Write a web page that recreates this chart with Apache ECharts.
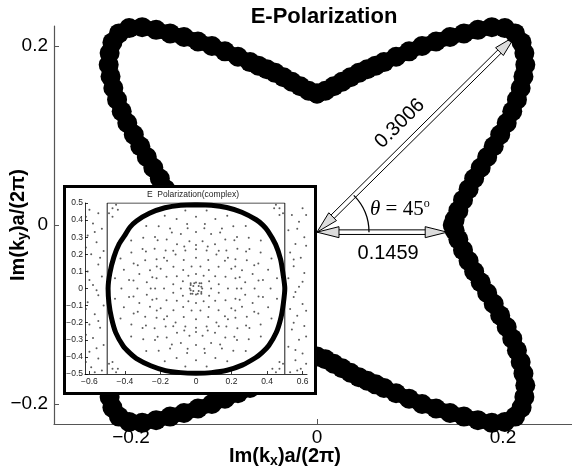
<!DOCTYPE html>
<html><head><meta charset="utf-8">
<script src="https://cdn.jsdelivr.net/npm/echarts@6/dist/echarts.min.js"></script>
<style>html,body{margin:0;padding:0;background:#fff}#c{width:572px;height:473px}</style>
</head><body><div id="c"></div>
<script>
// ---- data ----
const mainTitle = 'E-Polarization';
const insetTitle = 'E  Polarization(complex)';
const mainXTicks = [-0.2, 0, 0.2];
const mainYTicks = [-0.2, 0, 0.2];
const insetXTicks = [-0.6, -0.4, -0.2, 0, 0.2, 0.4, 0.6];

// Im(kx)a/2pi , Im(ky)a/2pi contour (closed loop)
const contour = [
[0.000,0.147],[0.009,0.150],[0.018,0.155],[0.027,0.160],[0.036,0.165],[0.045,0.170],[0.054,0.174],[0.063,0.178],[0.072,0.182],[0.085,0.188],[0.099,0.194],[0.113,0.200],[0.128,0.205],[0.143,0.210],[0.158,0.214],[0.173,0.218],[0.188,0.221],[0.202,0.220],[0.213,0.214],[0.220,0.204],[0.223,0.192],[0.224,0.179],[0.222,0.166],[0.219,0.153],[0.215,0.140],[0.210,0.127],[0.204,0.114],[0.197,0.101],[0.190,0.088],[0.183,0.076],[0.176,0.064],[0.169,0.052],[0.163,0.040],[0.157,0.028],[0.152,0.016],[0.148,0.006],[0.146,0.000],
[0.148,-0.006],[0.152,-0.016],[0.157,-0.028],[0.163,-0.040],[0.169,-0.052],[0.176,-0.064],[0.183,-0.076],[0.190,-0.088],[0.197,-0.101],[0.204,-0.114],[0.210,-0.127],[0.215,-0.140],[0.219,-0.153],[0.222,-0.166],[0.224,-0.179],[0.223,-0.192],[0.220,-0.204],[0.213,-0.214],[0.202,-0.220],[0.188,-0.221],[0.173,-0.218],[0.158,-0.214],[0.143,-0.210],[0.128,-0.205],[0.113,-0.200],[0.099,-0.194],[0.085,-0.188],[0.072,-0.182],[0.063,-0.178],[0.054,-0.174],[0.045,-0.170],[0.036,-0.165],[0.027,-0.160],[0.018,-0.155],[0.009,-0.150],[0.000,-0.147],
[-0.009,-0.150],[-0.018,-0.155],[-0.027,-0.160],[-0.036,-0.165],[-0.045,-0.170],[-0.054,-0.174],[-0.063,-0.178],[-0.072,-0.182],[-0.085,-0.188],[-0.099,-0.194],[-0.113,-0.200],[-0.128,-0.205],[-0.143,-0.210],[-0.158,-0.214],[-0.173,-0.218],[-0.188,-0.221],[-0.202,-0.220],[-0.213,-0.214],[-0.220,-0.204],[-0.223,-0.192],[-0.224,-0.179],[-0.222,-0.166],[-0.219,-0.153],[-0.215,-0.140],[-0.210,-0.127],[-0.204,-0.114],[-0.197,-0.101],[-0.190,-0.088],[-0.183,-0.076],[-0.176,-0.064],[-0.169,-0.052],[-0.163,-0.040],[-0.157,-0.028],[-0.152,-0.016],[-0.148,-0.006],[-0.146,0.000],
[-0.148,0.006],[-0.152,0.016],[-0.157,0.028],[-0.163,0.040],[-0.169,0.052],[-0.176,0.064],[-0.183,0.076],[-0.190,0.088],[-0.197,0.101],[-0.204,0.114],[-0.210,0.127],[-0.215,0.140],[-0.219,0.153],[-0.222,0.166],[-0.224,0.179],[-0.223,0.192],[-0.220,0.204],[-0.213,0.214],[-0.202,0.220],[-0.188,0.221],[-0.173,0.218],[-0.158,0.214],[-0.143,0.210],[-0.128,0.205],[-0.113,0.200],[-0.099,0.194],[-0.085,0.188],[-0.072,0.182],[-0.063,0.178],[-0.054,0.174],[-0.045,0.170],[-0.036,0.165],[-0.027,0.160],[-0.018,0.155],[-0.009,0.150],[0.000,0.147]
];

// inset: complex-plane contour (closed, starting at the top)
const insetRing = [
[0.000,0.490],[-0.086,0.487],[-0.175,0.472],[-0.262,0.440],[-0.335,0.395],[-0.372,0.358],[-0.400,0.312],[-0.432,0.262],[-0.462,0.185],[-0.485,0.090],[-0.495,0.000],
[-0.490,-0.086],[-0.476,-0.172],[-0.452,-0.258],[-0.410,-0.336],[-0.372,-0.378],[-0.335,-0.410],[-0.255,-0.452],[-0.172,-0.480],[-0.086,-0.492],[0.000,-0.495],
[0.086,-0.492],[0.175,-0.478],[0.260,-0.448],[0.335,-0.405],[0.372,-0.375],[0.410,-0.333],[0.452,-0.258],[0.478,-0.172],[0.492,-0.086],[0.500,0.000],
[0.490,0.086],[0.476,0.172],[0.448,0.258],[0.405,0.336],[0.375,0.372],[0.339,0.402],[0.258,0.446],[0.173,0.474],[0.086,0.487],[0.000,0.490]
];
const insetBox = [[-0.5,-0.5],[-0.5,0.5],[0.5,0.5],[0.5,-0.5]];
const insetDots = [
[0.42,0],[0.406,0.109],[0.364,0.21],[0.297,0.297],[0.21,0.364],[0.109,0.406],[0,0.42],[-0.109,0.406],[-0.21,0.364],[-0.297,0.297],[-0.364,0.21],[-0.406,0.109],[-0.42,0],[-0.406,-0.109],[-0.364,-0.21],[-0.297,-0.297],[-0.21,-0.364],[-0.109,-0.406],[0,-0.42],[0.109,-0.406],[0.21,-0.364],[0.297,-0.297],[0.364,-0.21],[0.406,-0.109],
[0.377,0.05],[0.351,0.146],[0.301,0.231],[0.231,0.301],[0.146,0.351],[0.05,0.377],[-0.05,0.377],[-0.146,0.351],[-0.231,0.301],[-0.301,0.231],[-0.351,0.146],[-0.377,0.05],[-0.377,-0.05],[-0.351,-0.146],[-0.301,-0.231],[-0.231,-0.301],[-0.146,-0.351],[-0.05,-0.377],[0.05,-0.377],[0.146,-0.351],[0.231,-0.301],[0.301,-0.231],[0.351,-0.146],[0.377,-0.05],
[0.352,0.047],[0.328,0.136],[0.282,0.216],[0.216,0.282],[0.136,0.328],[0.047,0.352],[-0.047,0.352],[-0.136,0.328],[-0.216,0.282],[-0.282,0.216],[-0.328,0.136],[-0.352,0.047],[-0.352,-0.047],[-0.328,-0.136],[-0.282,-0.216],[-0.216,-0.282],[-0.136,-0.328],[-0.047,-0.352],[0.047,-0.352],[0.136,-0.328],[0.216,-0.282],[0.282,-0.216],[0.328,-0.136],[0.352,-0.047],
[0.33,0],[0.319,0.085],[0.286,0.165],[0.233,0.233],[0.165,0.286],[0.085,0.319],[0,0.33],[-0.085,0.319],[-0.165,0.286],[-0.233,0.233],[-0.286,0.165],[-0.319,0.085],[-0.33,0],[-0.319,-0.085],[-0.286,-0.165],[-0.233,-0.233],[-0.165,-0.286],[-0.085,-0.319],[0,-0.33],[0.085,-0.319],[0.165,-0.286],[0.233,-0.233],[0.286,-0.165],[0.319,-0.085],
[0.277,0.037],[0.259,0.107],[0.222,0.171],[0.171,0.222],[0.107,0.259],[0.037,0.277],[-0.037,0.277],[-0.107,0.259],[-0.171,0.222],[-0.222,0.171],[-0.259,0.107],[-0.277,0.037],[-0.277,-0.037],[-0.259,-0.107],[-0.222,-0.171],[-0.171,-0.222],[-0.107,-0.259],[-0.037,-0.277],[0.037,-0.277],[0.107,-0.259],[0.171,-0.222],[0.222,-0.171],[0.259,-0.107],[0.277,-0.037],
[0.255,0],[0.246,0.066],[0.221,0.128],[0.18,0.18],[0.128,0.221],[0.066,0.246],[0,0.255],[-0.066,0.246],[-0.128,0.221],[-0.18,0.18],[-0.221,0.128],[-0.246,0.066],[-0.255,0],[-0.246,-0.066],[-0.221,-0.128],[-0.18,-0.18],[-0.128,-0.221],[-0.066,-0.246],[0,-0.255],[0.066,-0.246],[0.128,-0.221],[0.18,-0.18],[0.221,-0.128],[0.246,-0.066],
[0.23,0],[0.222,0.06],[0.199,0.115],[0.163,0.163],[0.115,0.199],[0.06,0.222],[0,0.23],[-0.06,0.222],[-0.115,0.199],[-0.163,0.163],[-0.199,0.115],[-0.222,0.06],[-0.23,0],[-0.222,-0.06],[-0.199,-0.115],[-0.163,-0.163],[-0.115,-0.199],[-0.06,-0.222],[0,-0.23],[0.06,-0.222],[0.115,-0.199],[0.163,-0.163],[0.199,-0.115],[0.222,-0.06],
[0.456,0.06],[0.425,0.176],[0.365,0.28],[0.28,0.365],[0.176,0.425],[0.06,0.456],[-0.06,0.456],[-0.176,0.425],[-0.28,0.365],[-0.365,0.28],[-0.425,0.176],[-0.456,0.06],[-0.456,-0.06],[-0.425,-0.176],[-0.365,-0.28],[-0.28,-0.365],[-0.176,-0.425],[-0.06,-0.456],[0.06,-0.456],[0.176,-0.425],[0.28,-0.365],[0.365,-0.28],[0.425,-0.176],[0.456,-0.06],
[0.18,0],[0.166,0.069],[0.127,0.127],[0.069,0.166],[0,0.18],[-0.069,0.166],[-0.127,0.127],[-0.166,0.069],[-0.18,0],[-0.166,-0.069],[-0.127,-0.127],[-0.069,-0.166],[0,-0.18],[0.069,-0.166],[0.127,-0.127],[0.166,-0.069],
[0.128,0.025],[0.108,0.072],[0.072,0.108],[0.025,0.128],[-0.025,0.128],[-0.072,0.108],[-0.108,0.072],[-0.128,0.025],[-0.128,-0.025],[-0.108,-0.072],[-0.072,-0.108],[-0.025,-0.128],[0.025,-0.128],[0.072,-0.108],[0.108,-0.072],[0.128,-0.025],
[0.085,0],[0.074,0.043],[0.043,0.074],[0,0.085],[-0.043,0.074],[-0.074,0.043],[-0.085,0],[-0.074,-0.043],[-0.043,-0.074],[0,-0.085],[0.043,-0.074],[0.074,-0.043],
[0.03,0.03],[-0.03,0.03],[0.03,-0.03],[-0.03,-0.03],[0,0.035],[0,-0.035],[0.035,0],[-0.035,0],[0.015,0.015],[-0.015,0.015],[0.015,-0.015],[-0.015,-0.015],[0.03,0.01],[-0.03,-0.01],[0.01,-0.03],[-0.01,0.03],[0.02,0.03],[-0.02,-0.03],[0.03,-0.02],[-0.03,0.02],
[0.47,0.47],[0.44,0.47],[0.47,0.43],[-0.47,0.47],[-0.44,0.46],[-0.47,0.42],[0.47,-0.47],[0.43,-0.47],[0.47,-0.43],[-0.47,-0.47],[-0.44,-0.47],[-0.47,-0.43],[0.49,0.44],[0.45,0.49],[-0.49,0.44],[-0.45,0.49],[0.49,-0.44],[0.45,-0.49],[-0.49,-0.44],[-0.45,-0.49],
[-0.6,0.46],[-0.55,0.44],[-0.58,0.38],[-0.53,0.35],[-0.61,0.31],[-0.56,0.27],[-0.52,0.22],[-0.59,0.2],[-0.55,0.14],[-0.61,0.1],[-0.53,0.07],[-0.58,0.02],[-0.55,-0.04],[-0.61,-0.08],[-0.52,-0.1],[-0.57,-0.15],[-0.6,-0.21],[-0.54,-0.23],[-0.58,-0.29],[-0.52,-0.33],[-0.6,-0.37],[-0.55,-0.41],[-0.59,-0.46],[-0.53,-0.48],
[-0.62,0.42],[-0.57,0.33],[-0.62,0.24],[-0.54,0.18],[-0.6,0.05],[-0.56,-0.01],[-0.62,-0.12],[-0.55,-0.19],[-0.62,-0.27],[-0.56,-0.35],[-0.62,-0.43],[-0.57,-0.49],
[0.6,0.47],[0.54,0.43],[0.58,0.39],[0.52,0.34],[0.61,0.3],[0.56,0.26],[0.53,0.21],[0.59,0.18],[0.55,0.13],[0.61,0.09],[0.52,0.06],[0.58,0.01],[0.55,-0.05],[0.6,-0.09],[0.53,-0.12],[0.57,-0.16],[0.61,-0.22],[0.54,-0.24],[0.58,-0.3],[0.52,-0.34],[0.6,-0.38],[0.56,-0.42],[0.59,-0.47],[0.53,-0.49],
[0.62,0.43],[0.57,0.35],[0.62,0.25],[0.55,0.17],[0.6,0.04],[0.56,-0.02],[0.62,-0.13],[0.55,-0.2],[0.62,-0.28],[0.56,-0.36],[0.62,-0.44],[0.57,-0.48]
];

// annotation arrows: [x0, y0, x1, y1]
const arrowData = [[0, -0.008, 0.213, 0.211], [0, -0.008, 0.14, -0.008]];
const arrowLabels = ['0.3006', '0.1459'];
const angleOrigin = [[0, -0.008]];
const angleText = '{t|θ} = 45{s|o}';

// ---- chart ----
const fmt = v => v === 0 ? '0' : (v < 0 ? '−' : '') + Math.abs(v).toFixed(1);
const FONT = 'Liberation Sans';

function renderArrow(params, api) {
  const p0 = api.coord([api.value(0), api.value(1)]);
  const p1 = api.coord([api.value(2), api.value(3)]);
  const dx = p1[0] - p0[0], dy = p1[1] - p0[1], len = Math.hypot(dx, dy);
  const ux = dx / len, uy = dy / len, nx = -uy, ny = ux;
  const L = 22, h = 5.5, w = 2.3;
  const pt = (b, a, c) => [b[0] + ux * a + nx * c, b[1] + uy * a + ny * c];
  const idx = params.dataIndex;
  const mx = (p0[0] + p1[0]) / 2, my = (p0[1] + p1[1]) / 2;
  const off = idx === 0 ? -19 : 21;
  const along = idx === 0 ? -4 : 6;
  const rot = idx === 0 ? Math.atan2(-dy, dx) : 0;
  return {
    type: 'group',
    children: [
      { type: 'polygon', shape: { points: [pt(p0, L - 2, w), pt(p1, -L + 2, w), pt(p1, -L + 2, -w), pt(p0, L - 2, -w)] },
        style: { fill: '#ffffff', stroke: '#000', lineWidth: 1 } },
      { type: 'polygon', shape: { points: [p0, pt(p0, L, h), pt(p0, L, -h)] },
        style: { fill: '#dcdcdc', stroke: '#000', lineWidth: 1 } },
      { type: 'polygon', shape: { points: [p1, pt(p1, -L, h), pt(p1, -L, -h)] },
        style: { fill: '#dcdcdc', stroke: '#000', lineWidth: 1 } },
      { type: 'text', x: mx + nx * off + ux * along, y: my + ny * off + uy * along, rotation: rot,
        style: { text: arrowLabels[idx], fontSize: 20, fontFamily: FONT, fill: '#000', align: 'center', verticalAlign: 'middle' } }
    ]
  };
}

function renderAngle(params, api) {
  const o = api.coord([api.value(0), api.value(1)]);
  return {
    type: 'group',
    children: [
      { type: 'arc', shape: { cx: o[0], cy: o[1], r: 52, startAngle: -Math.PI / 4, endAngle: 0, clockwise: true },
        style: { stroke: '#000', fill: null, lineWidth: 1.3 } },
      { type: 'text', x: o[0] + 53, y: o[1] - 23,
        style: { text: angleText, fontSize: 21, fontFamily: 'Liberation Serif', fill: '#000', align: 'left', verticalAlign: 'middle',
          rich: { t: { fontSize: 21, fontFamily: 'Liberation Serif', fontStyle: 'italic' },
                  s: { fontSize: 12, fontFamily: 'Liberation Serif', padding: [0, 0, 11, 0] } } } }
    ]
  };
}

const chart = echarts.init(document.getElementById('c'), null, { renderer: 'canvas' });
const axisCol = '#555';
chart.setOption({
  animation: false,
  backgroundColor: '#fff',
  grid: [
    { left: 54, top: 26, width: 518, height: 398 },
    { left: 85, top: 203, width: 222, height: 171 }
  ],
  xAxis: [
    { type: 'value', gridIndex: 0, min: -0.2828, max: 0.2742,
      axisLine: { show: true, onZero: false, lineStyle: { color: axisCol, width: 1.2 } },
      axisTick: { show: true, inside: true, length: 5, customValues: mainXTicks, lineStyle: { color: axisCol } },
      axisLabel: { customValues: mainXTicks, formatter: fmt, fontSize: 19, fontFamily: FONT, color: '#000', margin: 4 },
      splitLine: { show: false } },
    { type: 'value', gridIndex: 1, min: -0.625, max: 0.625, z: 10,
      axisLine: { show: true, onZero: false, lineStyle: { color: '#000', width: 0.8 } },
      axisTick: { show: true, inside: true, length: 3, customValues: insetXTicks, lineStyle: { color: '#000', width: 0.8 } },
      axisLabel: { customValues: insetXTicks, formatter: fmt, fontSize: 8.5, fontFamily: FONT, color: '#222', margin: 3 },
      splitLine: { show: false } }
  ],
  yAxis: [
    { type: 'value', gridIndex: 0, min: -0.2223, max: 0.2223,
      axisLine: { show: true, onZero: false, lineStyle: { color: axisCol, width: 1.2 } },
      axisTick: { show: true, inside: true, length: 5, customValues: mainYTicks, lineStyle: { color: axisCol } },
      axisLabel: { customValues: mainYTicks, formatter: fmt, fontSize: 19, fontFamily: FONT, color: '#000', margin: 6 },
      splitLine: { show: false } },
    { type: 'value', gridIndex: 1, min: -0.5, max: 0.5, interval: 0.1, z: 10,
      axisLine: { show: true, onZero: false, lineStyle: { color: '#000', width: 0.8 } },
      axisTick: { show: true, inside: true, length: 3, lineStyle: { color: '#000', width: 0.8 } },
      axisLabel: { formatter: v => fmt(Math.round(v * 10) / 10), fontSize: 8.5, fontFamily: FONT, color: '#222', margin: 2 },
      splitLine: { show: false } }
  ],
  graphic: [
    { type: 'rect', z: 5, shape: { x: 64.5, y: 186.5, width: 251, height: 207 },
      style: { fill: '#fff', stroke: '#000', lineWidth: 3 } },
    { type: 'text', z: 6, x: 324, y: 17,
      style: { text: mainTitle, fontSize: 22, fontWeight: 'bold', fontFamily: FONT, fill: '#000', align: 'center', verticalAlign: 'middle', textAlign: 'center', textVerticalAlign: 'middle' } },
    { type: 'text', z: 11, x: 193, y: 195,
      style: { text: insetTitle, fontSize: 8.5, fontFamily: FONT, fill: '#222', align: 'center', verticalAlign: 'middle', textAlign: 'center', textVerticalAlign: 'middle' } },
    { type: 'text', z: 6, x: 285, y: 456,
      style: { text: '{b|Im(k}{sub|x}{b|)a/(2π)}', align: 'center', verticalAlign: 'middle', textAlign: 'center', textVerticalAlign: 'middle',
        rich: { b: { fontSize: 20, fontWeight: 'bold', fontFamily: FONT, fill: '#000' },
                sub: { fontSize: 14, fontWeight: 'bold', fontFamily: FONT, fill: '#000', padding: [10, 0, 0, 0] } } } },
    { type: 'text', z: 6, x: 18, y: 225, rotation: Math.PI / 2,
      style: { text: '{b|Im(k}{sub|y}{b|)a/(2π)}', align: 'center', verticalAlign: 'middle', textAlign: 'center', textVerticalAlign: 'middle',
        rich: { b: { fontSize: 20, fontWeight: 'bold', fontFamily: FONT, fill: '#000' },
                sub: { fontSize: 14, fontWeight: 'bold', fontFamily: FONT, fill: '#000', padding: [10, 0, 0, 0] } } } }
  ],
  series: [
    { type: 'custom', name: 'arrows', xAxisIndex: 0, yAxisIndex: 0, z: 2, renderItem: renderArrow,
      encode: { x: [0, 2], y: [1, 3] }, data: arrowData },
    { type: 'line', name: 'E-Polarization', xAxisIndex: 0, yAxisIndex: 0, z: 3, data: contour,
      symbol: 'circle', symbolSize: 20, showSymbol: true, clip: false,
      lineStyle: { color: '#000', width: 15 }, itemStyle: { color: '#000' } },
    { type: 'custom', name: 'angle', xAxisIndex: 0, yAxisIndex: 0, z: 4, renderItem: renderAngle,
      encode: { x: 0, y: 1 }, data: angleOrigin },
    { type: 'scatter', name: 'dots', xAxisIndex: 1, yAxisIndex: 1, z: 10, data: insetDots,
      symbol: 'circle', symbolSize: 2, itemStyle: { color: '#333' } },
    { type: 'line', name: 'box', xAxisIndex: 1, yAxisIndex: 1, z: 10, data: insetBox,
      symbol: 'none', lineStyle: { color: '#000', width: 0.9 } },
    { type: 'line', name: 'complex', xAxisIndex: 1, yAxisIndex: 1, z: 11, data: insetRing,
      symbol: 'none', smooth: 0.25, lineStyle: { color: '#000', width: 5, join: 'round' } }
  ]
});
</script>
</body></html>
